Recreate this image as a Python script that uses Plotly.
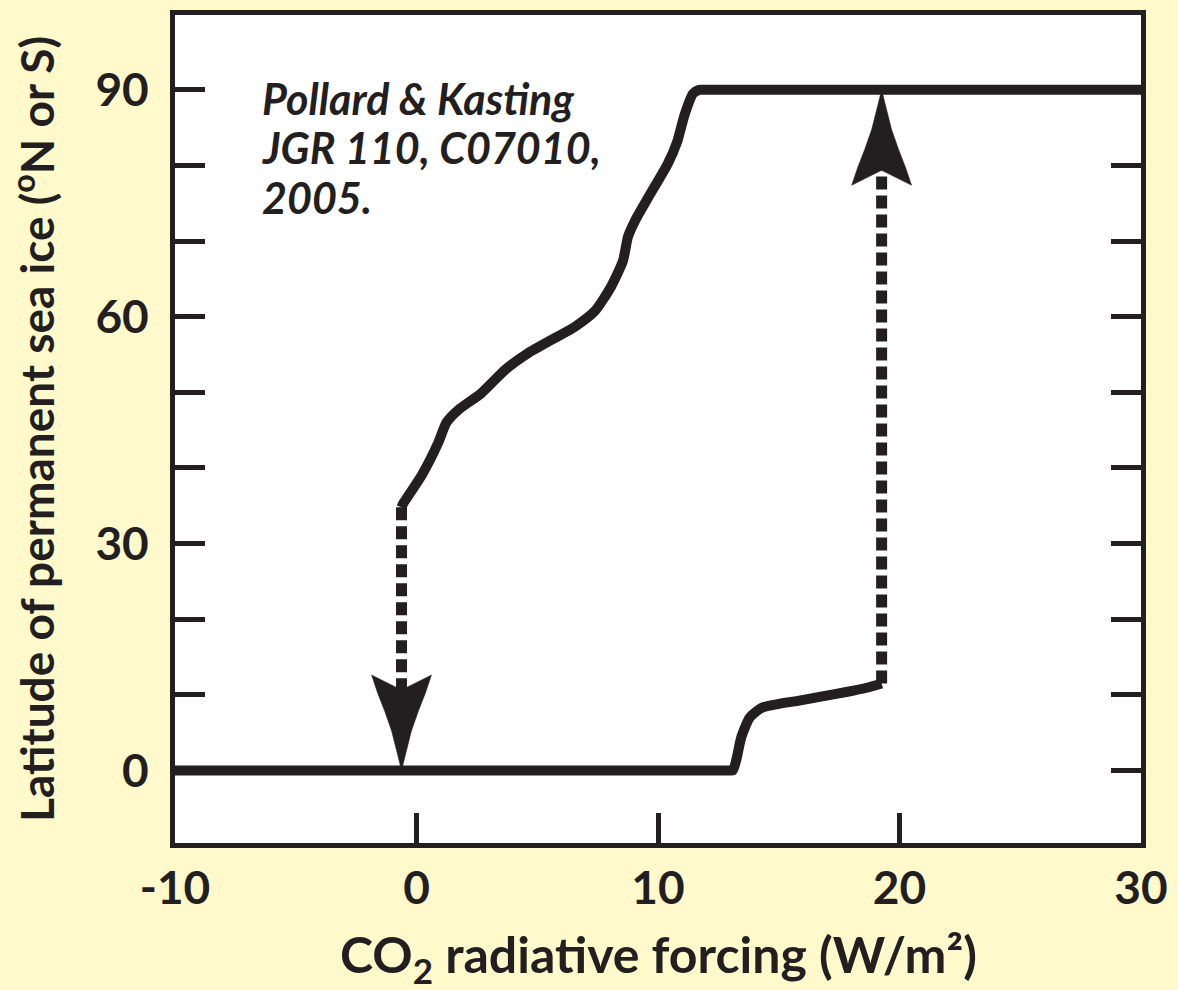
import plotly.graph_objects as go

# ---- data ----
# upper branch (cooling from ice-free state), W/m2 vs latitude
upper_x = [-0.62, -0.55, 0.21, 0.91, 1.24, 1.74, 2.69, 3.68, 4.63, 5.74, 6.57, 7.40,
           8.06, 8.55, 8.76, 9.05, 9.60, 10.40, 10.80, 11.10, 11.45, 11.70, 12.0, 29.9, 30.0]
upper_y = [34.8, 35.3, 39.0, 43.4, 46.0, 47.7, 49.9, 53.0, 55.2, 57.2, 58.7, 60.8,
           64.0, 67.4, 70.6, 72.7, 75.8, 80.2, 83.2, 86.7, 89.5, 90.0, 90.0, 90.0, 90.0]
# lower branch (warming from snowball state)
lower_x = [-10.0, -9.9, 12.9, 13.1, 13.25, 13.45, 13.8, 14.3, 15.0, 15.79, 16.8, 17.85, 18.6, 19.26]
lower_y = [0.0, 0.0, 0.0, 0.0, 1.5, 4.4, 7.0, 8.3, 8.8, 9.2, 9.8, 10.4, 10.9, 11.5]

x_ticks = [-10, 0, 10, 20, 30]
x_ticktext = ["-10", "0", "10", "20", "30"]
y_ticks = [0, 10, 20, 30, 40, 50, 60, 70, 80, 90]
y_ticktext = ["0", "", "", "30", "", "", "60", "", "", "90"]

x_range = [-10, 30]
y_range = [-9.6, 99.9]

citation_lines = ["Pollard & Kasting", "JGR 110, C07010,", "2005."]
x_title = "CO<sub>2</sub> radiative forcing (W/m²)"
y_title = "Latitude of permanent sea ice (<sup>o</sup>N or S)"

# ---- style ----
INK = "#231F20"
BG = "#FFF9CC"
W, H = 1178, 990
M = dict(l=175, r=35, t=10, b=147)
plot_w = W - M["l"] - M["r"]
plot_h = H - M["t"] - M["b"]
px_per_x = plot_w / (x_range[1] - x_range[0])
px_per_y = plot_h / (y_range[1] - y_range[0])

# arrowhead outline in pixels: (distance back from tip, half width)
head_profile = [(0, 0), (20, 5), (40, 10), (60, 17), (78, 24), (96, 30), (81, 0)]


def arrowhead(tip_x, tip_y, direction):
    """direction = -1 for pointing down, +1 for pointing up"""
    right = [(tip_x + w / px_per_x, tip_y - direction * b / px_per_y) for b, w in head_profile]
    left = [(tip_x - w / px_per_x, tip_y - direction * b / px_per_y) for b, w in head_profile[-2::-1]]
    pts = right + left
    return [p[0] for p in pts], [p[1] for p in pts]


# jump positions derived from the branches
drop_x, drop_top, drop_bottom = upper_x[0], upper_y[0], lower_y[0]
rise_x, rise_bottom, rise_top = lower_x[-1], lower_y[-1], upper_y[-1]

fig = go.Figure()

# dashed transitions
fig.add_trace(go.Scatter(x=[drop_x, drop_x], y=[drop_top, drop_bottom + 10], mode="lines",
                         line=dict(color=INK, width=11, dash="13px,6px"), hoverinfo="skip"))
fig.add_trace(go.Scatter(x=[rise_x, rise_x], y=[rise_bottom, rise_top - 10], mode="lines",
                         line=dict(color=INK, width=11, dash="13px,6px"), hoverinfo="skip"))

# branches
fig.add_trace(go.Scatter(x=upper_x, y=upper_y, mode="lines",
                         line=dict(color=INK, width=10, shape="spline", smoothing=0.6),
                         hoverinfo="skip"))
fig.add_trace(go.Scatter(x=lower_x, y=lower_y, mode="lines",
                         line=dict(color=INK, width=10, shape="spline", smoothing=0.6),
                         hoverinfo="skip"))

# arrowheads
ax, ay = arrowhead(drop_x, drop_bottom, -1)
fig.add_trace(go.Scatter(x=ax, y=ay, mode="lines", fill="toself", fillcolor=INK,
                         line=dict(color=INK, width=0.5), hoverinfo="skip"))
ax, ay = arrowhead(rise_x, rise_top, +1)
fig.add_trace(go.Scatter(x=ax, y=ay, mode="lines", fill="toself", fillcolor=INK,
                         line=dict(color=INK, width=0.5), hoverinfo="skip"))

tick_font = dict(family="Lato", size=46, color=INK, weight="bold")

annotations = [
    dict(text=x_title, xref="paper", yref="paper", x=0.5, y=-0.138,
         xanchor="center", yanchor="middle", showarrow=False,
         font=dict(family="Lato", size=50, color=INK, weight="bold")),
    dict(text=y_title, xref="paper", yref="paper", x=-0.147, y=0.5,
         xanchor="center", yanchor="middle", textangle=-90, showarrow=False,
         font=dict(family="Lato", size=46, color=INK, weight="bold")),
]
line_top_px = 66
line_pitch_px = 50
for i, line in enumerate(citation_lines):
    top_px = line_top_px + i * line_pitch_px
    annotations.append(dict(
        text=line, xref="paper", yref="paper", x=0.088,
        y=(H - M["b"] - top_px) / plot_h,
        xanchor="left", yanchor="top", align="left", showarrow=False,
        font=dict(family="Lato", size=43, color=INK, weight="bold", style="italic")))

fig.update_layout(
    width=W, height=H, margin=M,
    paper_bgcolor=BG, plot_bgcolor="white",
    showlegend=False,
    xaxis=dict(range=x_range, tickvals=x_ticks, ticktext=x_ticktext,
               ticks="inside", ticklen=30, tickwidth=4.5, tickcolor=INK,
               showline=True, linewidth=5, linecolor=INK, mirror=True,
               showgrid=False, zeroline=False, tickfont=tick_font,
               ticklabelstandoff=1),
    yaxis=dict(range=y_range, tickvals=y_ticks, ticktext=y_ticktext,
               ticks="inside", ticklen=30, tickwidth=4.5, tickcolor=INK,
               showline=True, linewidth=5, linecolor=INK, mirror="ticks",
               showgrid=False, zeroline=False, tickfont=tick_font,
               ticklabelstandoff=12),
    annotations=annotations,
)

fig.write_html("out.html", config={"displayModeBar": False},
               post_script="document.body.style.margin='0';")
